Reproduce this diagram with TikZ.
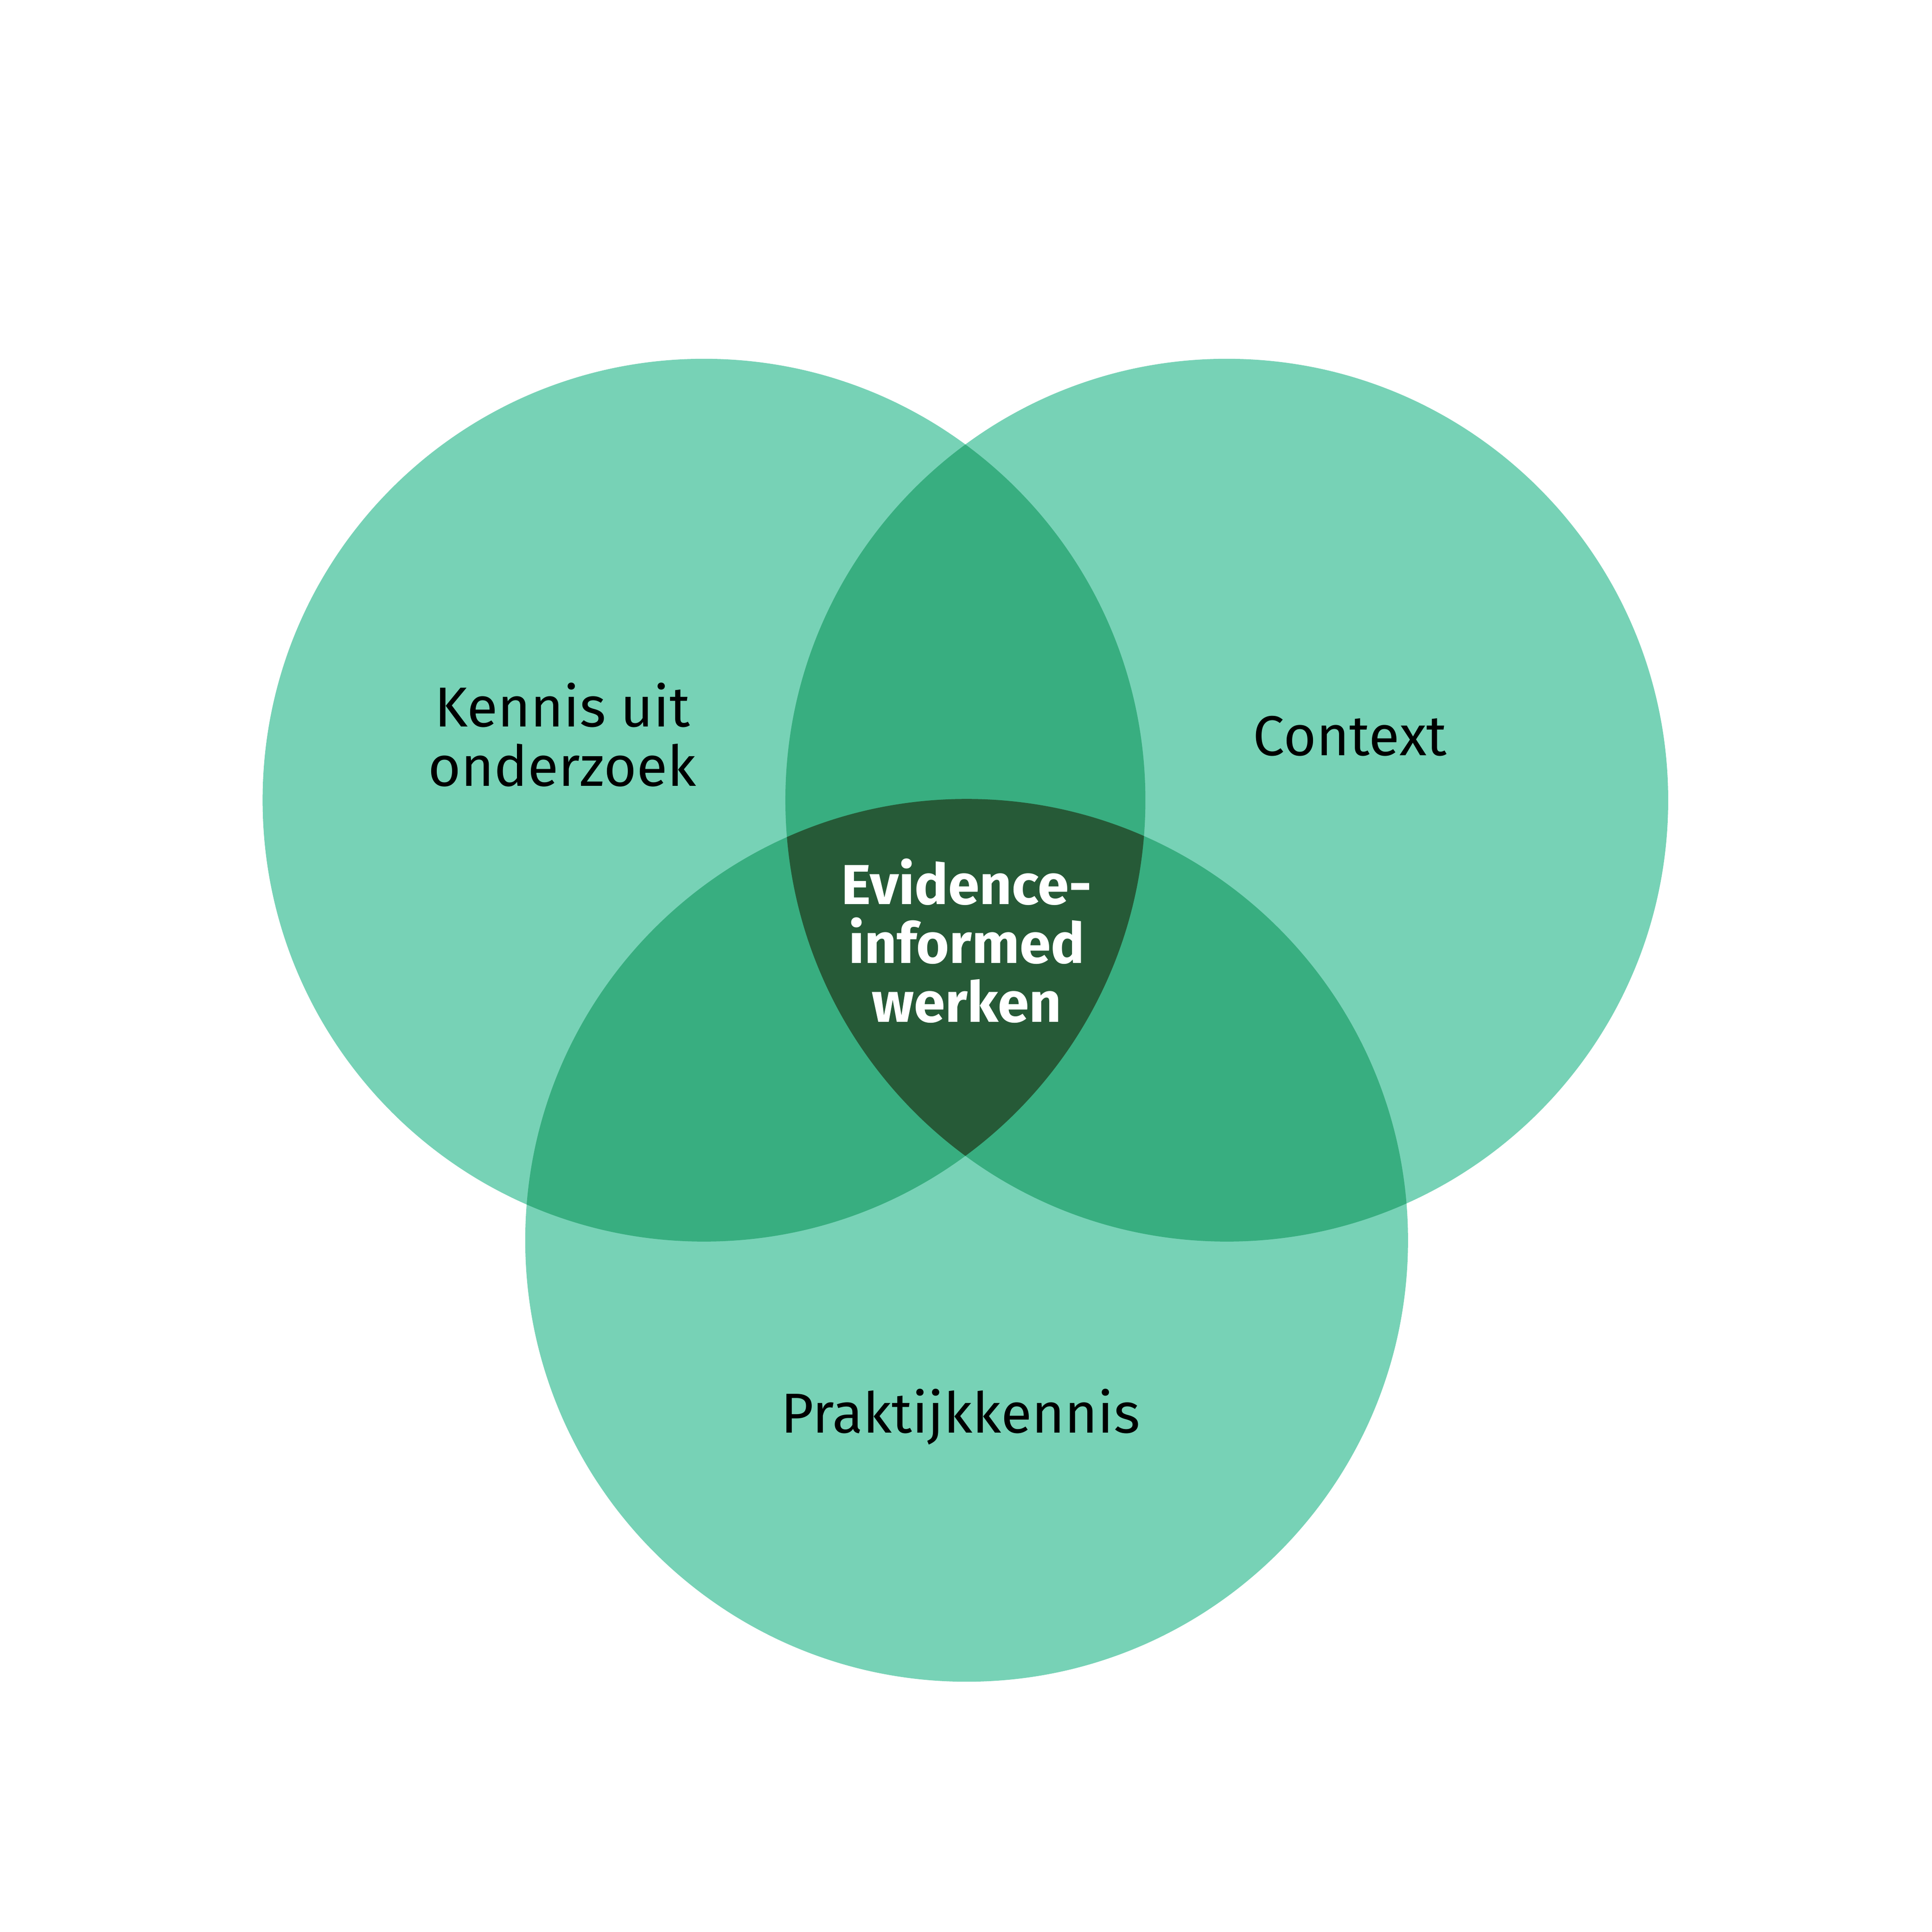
\documentclass[tikz,border=0pt]{standalone}
\usepackage{fontspec}
\setmainfont{Fira Sans}
\definecolor{lightgreen}{HTML}{77D2B6}
\definecolor{midgreen}{HTML}{38AE80}
\definecolor{darkgreen}{HTML}{265A37}
\begin{document}
\begin{tikzpicture}[x=0.01cm,y=-0.01cm]
\tikzstyle{label}=[align=center,font=\fontsize{13}{13.6}\selectfont]
\useasboundingbox (0,0) rectangle (1567,1567);
\coordinate (kennis) at (571,649);
\coordinate (context) at (995,649);
\coordinate (praktijk) at (784,1006);
% the three circles
\fill [lightgreen] (kennis) circle (358);
\fill [lightgreen] (context) circle (358);
\fill [lightgreen] (praktijk) circle (358);
% pairwise overlaps
\begin{scope}
\clip (kennis) circle (358);
\fill [midgreen] (context) circle (358);
\fill [midgreen] (praktijk) circle (358);
\end{scope}
\begin{scope}
\clip (context) circle (358);
\fill [midgreen] (praktijk) circle (358);
\end{scope}
% centre
\begin{scope}
\clip (kennis) circle (358);
\clip (context) circle (358);
\fill [darkgreen] (praktijk) circle (358);
\end{scope}
\node [label] (kennistext) at (456,596) {Kennis uit\\onderzoek};
\node [label] (contexttext) at (1095,597) {Context};
\node [label] (praktijktext) at (779,1149) {Praktijkkennis};
\node [label,text=white,font=\fontsize{13}{13.6}\selectfont\bfseries] (evidence) at (784,763) {Evidence-\\informed\\werken};
\end{tikzpicture}
\end{document}
